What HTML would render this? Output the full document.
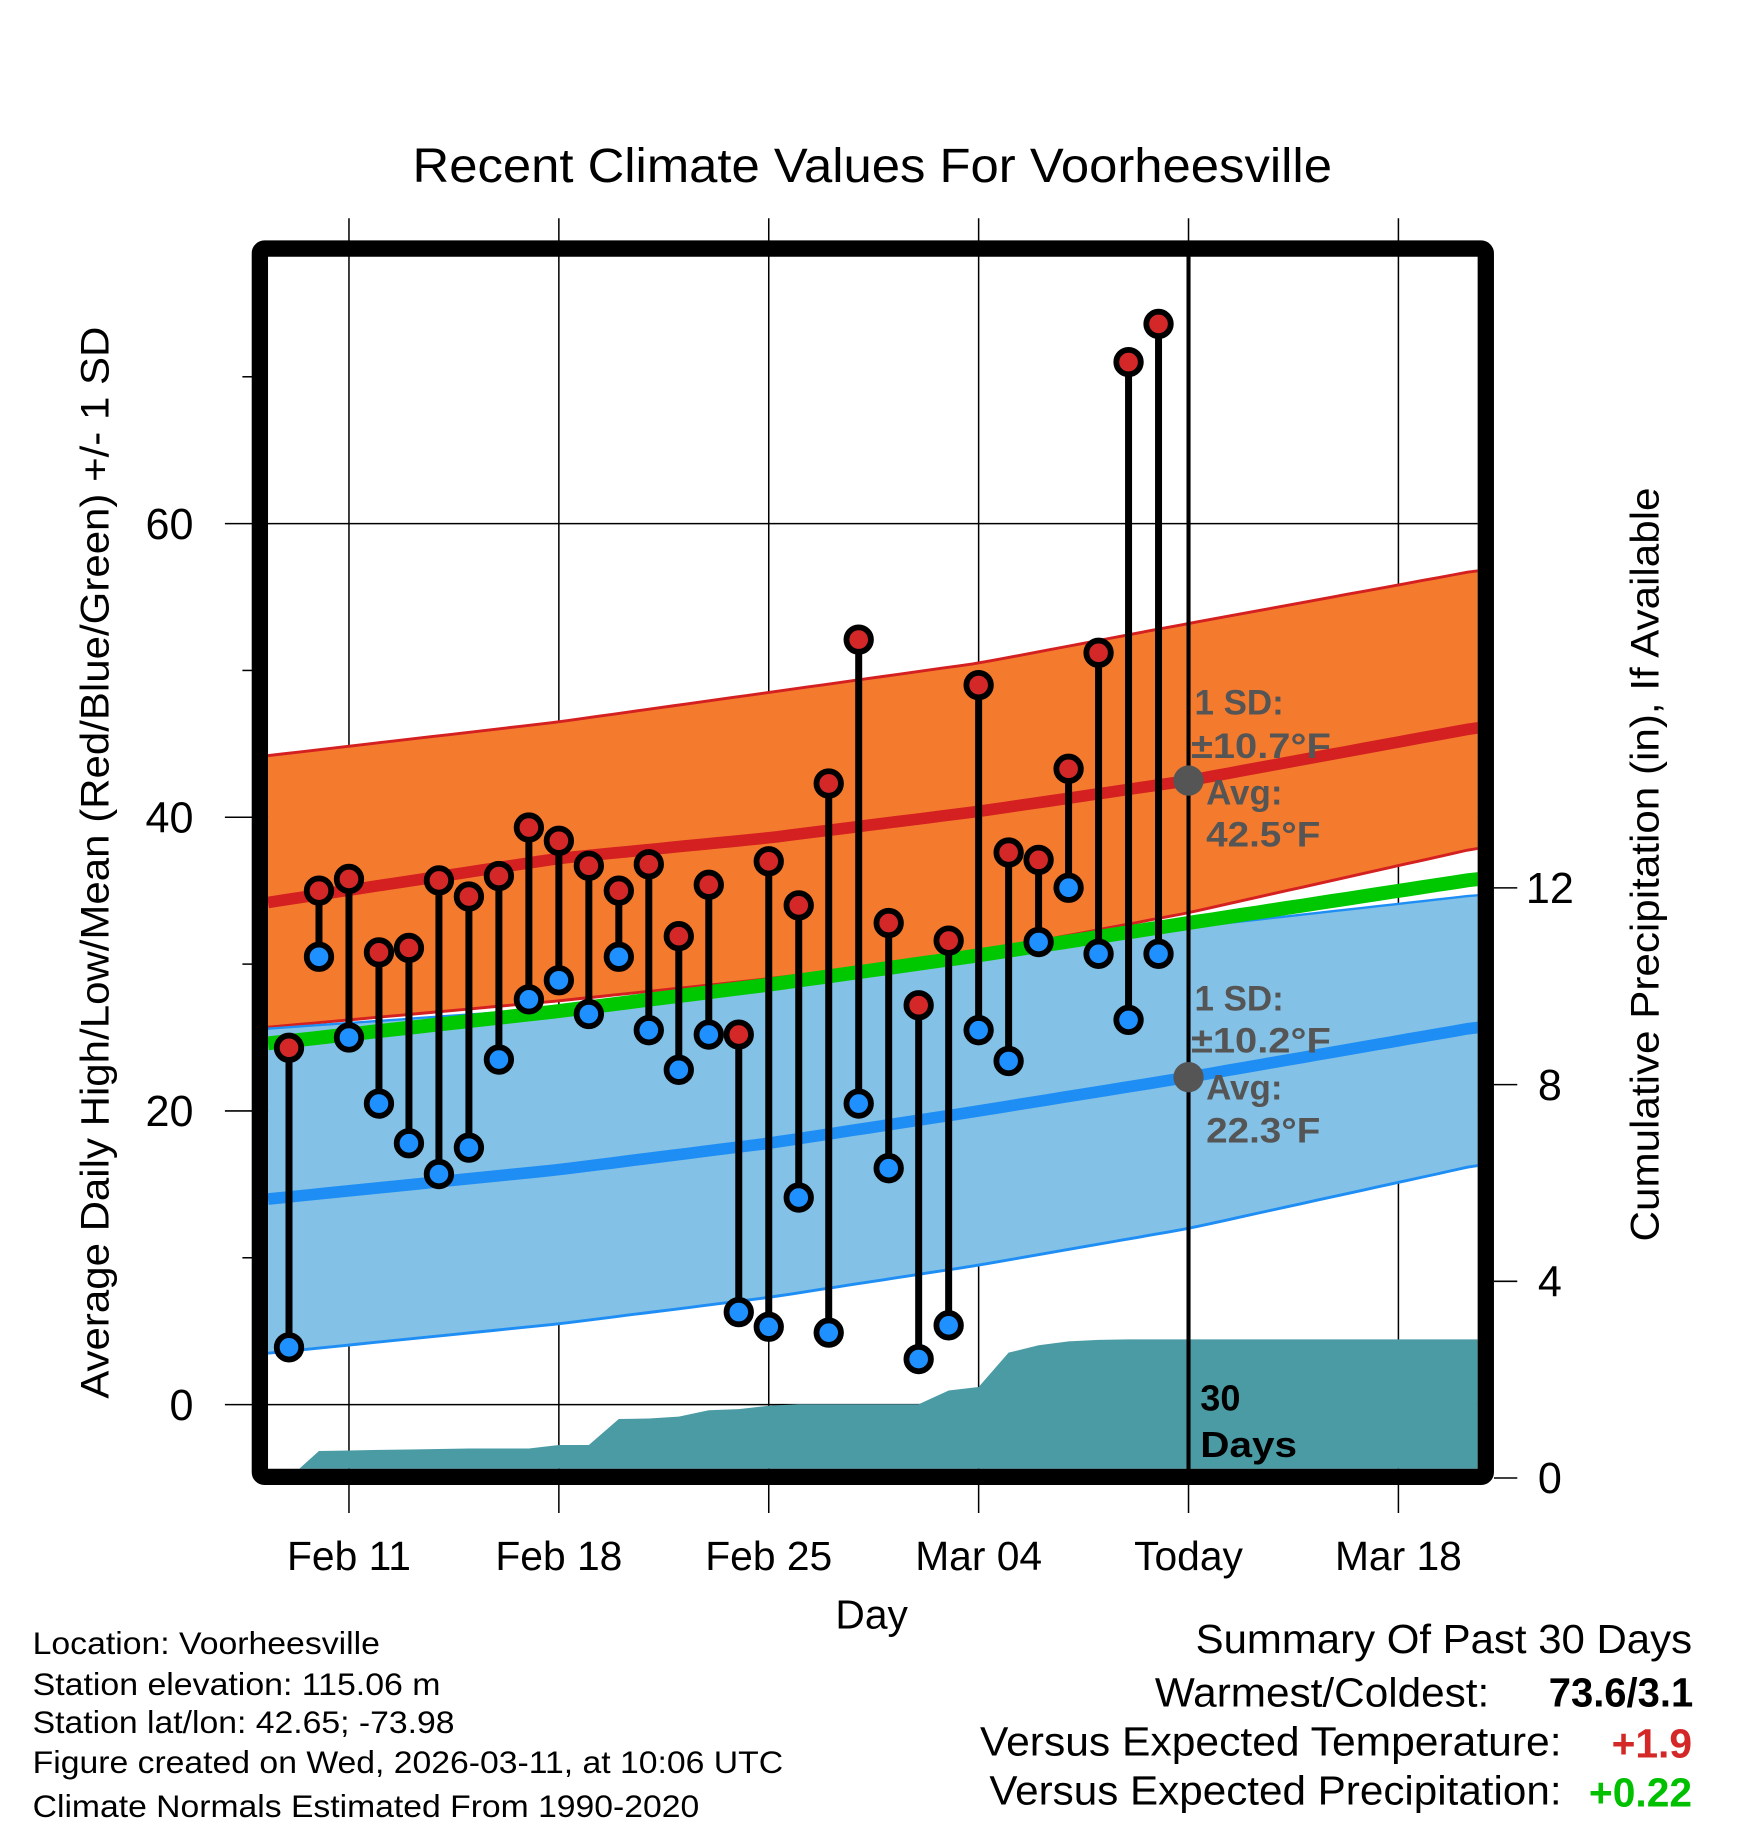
<!DOCTYPE html>
<html><head><meta charset="utf-8">
<style>
html,body{margin:0;padding:0;background:#fff;}
svg{display:block;font-family:"Liberation Sans",sans-serif;}
</style></head>
<body>
<svg id="chart" width="1748" height="1828" viewBox="0 0 1500 1568" xmlns="http://www.w3.org/2000/svg">
<defs><clipPath id="plotclip"><rect x="230" y="220" width="1038" height="1040"/></clipPath></defs>
<text x="354" y="156" font-size="41" textLength="789" lengthAdjust="spacingAndGlyphs">Recent Climate Values For Voorheesville</text>
<g id="grid"></g>
<g id="plot" clip-path="url(#plotclip)"></g>
<g id="marks"></g>
<g id="axes"></g>
<rect x="223" y="213" width="1052" height="1054" fill="none" stroke="#000" stroke-width="14" rx="4"/>
<text transform="translate(93,1200) rotate(-90)" font-size="34" textLength="920" lengthAdjust="spacingAndGlyphs">Average Daily High/Low/Mean (Red/Blue/Green) +/- 1 SD</text>
<text transform="translate(1423,1065) rotate(-90)" font-size="34" textLength="647" lengthAdjust="spacingAndGlyphs">Cumulative Precipitation (in), If Available</text>
<text x="748" y="1397" font-size="35" text-anchor="middle">Day</text>
<g font-size="30" font-weight="bold" fill="#555">
<text x="1025" y="613">1 SD:</text>
<text x="1022" y="650" textLength="120" lengthAdjust="spacingAndGlyphs">±10.7°F</text>
<text x="1035" y="690">Avg:</text>
<text x="1035" y="726" textLength="98" lengthAdjust="spacingAndGlyphs">42.5°F</text>
</g>
<g font-size="30" font-weight="bold" fill="#555">
<text x="1025" y="867">1 SD:</text>
<text x="1022" y="903" textLength="120" lengthAdjust="spacingAndGlyphs">±10.2°F</text>
<text x="1035" y="943">Avg:</text>
<text x="1035" y="980" textLength="98" lengthAdjust="spacingAndGlyphs">22.3°F</text>
</g>
<g font-size="31" font-weight="bold" fill="#000">
<text x="1030" y="1210">30</text>
<text x="1030" y="1250" textLength="83" lengthAdjust="spacingAndGlyphs">Days</text>
</g>
<g font-size="27" fill="#000" lengthAdjust="spacingAndGlyphs">
<text x="28" y="1419" textLength="298" lengthAdjust="spacingAndGlyphs">Location: Voorheesville</text>
<text x="28" y="1454" textLength="350" lengthAdjust="spacingAndGlyphs">Station elevation: 115.06 m</text>
<text x="28" y="1487" textLength="362" lengthAdjust="spacingAndGlyphs">Station lat/lon: 42.65; -73.98</text>
<text x="28" y="1521" textLength="644" lengthAdjust="spacingAndGlyphs">Figure created on Wed, 2026-03-11, at 10:06 UTC</text>
<text x="28" y="1559" textLength="572" lengthAdjust="spacingAndGlyphs">Climate Normals Estimated From 1990-2020</text>
</g>
<g font-size="35" fill="#000">
<text x="1026" y="1418" textLength="426" lengthAdjust="spacingAndGlyphs">Summary Of Past 30 Days</text>
<text x="991" y="1464" textLength="287" lengthAdjust="spacingAndGlyphs">Warmest/Coldest:</text>
<text x="1329" y="1464" font-weight="bold" textLength="124" lengthAdjust="spacingAndGlyphs">73.6/3.1</text>
<text x="841" y="1506" textLength="499" lengthAdjust="spacingAndGlyphs">Versus Expected Temperature:</text>
<text x="1452" y="1508" text-anchor="end" font-weight="bold" fill="#d42828">+1.9</text>
<text x="849" y="1548" textLength="491" lengthAdjust="spacingAndGlyphs">Versus Expected Precipitation:</text>
<text x="1452" y="1550" text-anchor="end" font-weight="bold" fill="#00c000">+0.22</text>
</g>
</svg>
<script>
const highs=[24.3,35.0,35.8,30.8,31.1,35.7,34.6,36.0,39.3,38.4,36.7,35.0,36.8,31.9,35.4,25.2,37.0,34.0,42.3,52.1,32.8,27.2,31.6,49.0,37.6,37.1,43.3,51.2,71.0,73.6];
const lows=[3.9,30.5,25.0,20.5,17.8,15.7,17.5,23.5,27.6,28.9,26.6,30.5,25.5,22.8,25.2,6.3,5.3,14.1,4.9,20.5,16.1,3.1,5.4,25.5,23.4,31.5,35.2,30.7,26.2,30.7];
const precip=[0.0,0.55,0.56,0.57,0.58,0.59,0.60,0.60,0.60,0.67,0.67,1.2,1.21,1.25,1.38,1.4,1.47,1.5,1.5,1.5,1.5,1.5,1.78,1.85,2.55,2.7,2.78,2.81,2.82,2.82];
const normDays=[-0.7,9,16,23,30,39.6];
const highNorm=[34.2,37.2,38.6,40.4,42.5,46.1];
const highUpper=[44.2,46.5,48.5,50.5,53.2,56.8];
const highLower=[25.7,27.5,29.0,30.8,33.5,37.9];
const lowNorm=[14.0,16.0,17.8,20.0,22.3,25.7];
const lowUpper=[25.6,27.0,28.5,30.5,32.5,34.7];
const lowLower=[3.5,5.5,7.3,9.5,12.0,16.3];
const meanNorm=[24.6,26.8,28.6,30.6,32.8,35.8];
const yTicks=[0,20,40,60];
const yMinor=[10,30,50,70];
const y2Ticks=[0,4,8,12];
const xTickDays=[2,9,16,23,30,37];
const xTickLabels=["Feb 11","Feb 18","Feb 25","Mar 04","Today","Mar 18"];
const todayDay=30;

const NS="http://www.w3.org/2000/svg";
const X=d=>248+d*25.73;
const Y=v=>1205-v*12.6;
const Y2=p=>1268-p*42.2;
function mk(tag,attrs,parent){const e=document.createElementNS(NS,tag);for(const k in attrs)e.setAttribute(k,attrs[k]);parent.appendChild(e);return e;}
function interp(arr,d){for(let i=0;i<normDays.length-1;i++){if(d<=normDays[i+1]){const t=(d-normDays[i])/(normDays[i+1]-normDays[i]);return arr[i]+t*(arr[i+1]-arr[i]);}}return arr[arr.length-1];}
function pts(arr){const out=[];const end=normDays[normDays.length-1];for(let d=normDays[0];d<end;d+=0.5){out.push([X(d),Y(interp(arr,d))]);}out.push([X(end)+3,Y(arr[arr.length-1])]);return out;}
const toStr=p=>p.map(q=>q[0].toFixed(1)+","+q[1].toFixed(1)).join(" ");

const grid=document.getElementById('grid'),plot=document.getElementById('plot'),marks=document.getElementById('marks'),axes=document.getElementById('axes');
yTicks.forEach(v=>{const l=mk('line',{x1:193,x2:1268,y1:Y(v),y2:Y(v),stroke:'#000','stroke-width':1.3},grid);

const t=mk('text',{x:166,y:Y(v)+13,'font-size':37,'text-anchor':'end'},axes);t.textContent=v;
});
yMinor.forEach(v=>{const l=mk('line',{x1:208,x2:218,y1:Y(v),y2:Y(v),stroke:'#000','stroke-width':1.3},axes);
});
y2Ticks.forEach(p=>{const l=mk('line',{x1:1282,x2:1302,y1:Y2(p),y2:Y2(p),stroke:'#000','stroke-width':1.3},axes);

const t=mk('text',{x:1330,y:Y2(p)+13,'font-size':37,'text-anchor':'middle'},axes);t.textContent=p;
});
xTickDays.forEach((d,i)=>{const l=mk('line',{x1:X(d),x2:X(d),y1:187,y2:1298,stroke:'#000','stroke-width':1.3},grid);

const t=mk('text',{x:X(d),y:1347,'font-size':35,'text-anchor':'middle'},axes);t.textContent=xTickLabels[i];
});

const hb=mk('polygon',{points:toStr(pts(highUpper).concat(pts(highLower).reverse())),fill:'#f47b2e'},plot);

const lb=mk('polygon',{points:toStr(pts(lowUpper).concat(pts(lowLower).reverse())),fill:'#83c1e6'},plot);

[[highUpper,'#d42020',2.5,'high-sd-upper'],[highLower,'#d42020',2.5,'high-sd-lower'],[lowUpper,'#1e8ef5',2,'low-sd-upper'],[lowLower,'#1e8ef5',2.5,'low-sd-lower'],[meanNorm,'#00c800',12,'mean-normal-line'],[highNorm,'#d42020',10,'high-normal-line'],[lowNorm,'#1e8ef5',10,'low-normal-line']].forEach(a=>{
const l=mk('polyline',{points:toStr(pts(a[0])),fill:'none',stroke:a[1],'stroke-width':a[2]},plot);
});
let pp=[[X(-0.4),Y2(0)]];precip.forEach((p,i)=>pp.push([X(i),Y2(p)]));pp.push([1270,Y2(precip[precip.length-1])]);pp.push([1270,Y2(0)]);
const pa=mk('polygon',{points:toStr(pp),fill:'#4a9ba4'},plot);

const tl=mk('line',{x1:X(todayDay),x2:X(todayDay),y1:210,y2:1262,stroke:'#000','stroke-width':3.5},marks);

const d1=mk('circle',{cx:X(todayDay),cy:Y(interp(highNorm,todayDay)),r:13,fill:'#555'},marks);

const d2=mk('circle',{cx:X(todayDay),cy:Y(interp(lowNorm,todayDay)),r:13,fill:'#555'},marks);

highs.forEach((h,i)=>{const s=mk('line',{x1:X(i),x2:X(i),y1:Y(h),y2:Y(lows[i]),stroke:'#000','stroke-width':6},marks);
});
highs.forEach((h,i)=>{
const c=mk('circle',{cx:X(i),cy:Y(h),r:10.5,fill:'#d42828',stroke:'#000','stroke-width':5},marks);

const c2=mk('circle',{cx:X(i),cy:Y(lows[i]),r:10.5,fill:'#1e90ff',stroke:'#000','stroke-width':5},marks);
});
</script>
</body></html>
